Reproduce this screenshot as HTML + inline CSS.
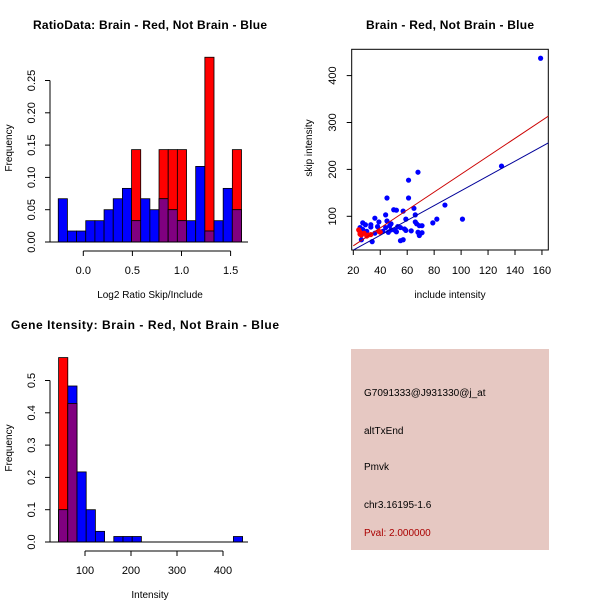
<!DOCTYPE html>
<html><head><meta charset="utf-8"><style>
html,body{margin:0;padding:0;background:#fff}
svg{display:block;font-family:"Liberation Sans",sans-serif}
</style></head><body>
<svg id="c" width="600" height="600" viewBox="0 0 600 600">
<rect width="600" height="600" fill="#fff"/>
<text x="150" y="29" font-size="12" font-weight="bold" text-anchor="middle" textLength="234">RatioData: Brain - Red, Not Brain - Blue</text>
<text x="450" y="29" font-size="12" font-weight="bold" text-anchor="middle" textLength="168">Brain - Red, Not Brain - Blue</text>
<text x="145" y="329" font-size="12" font-weight="bold" text-anchor="middle" textLength="268">Gene Itensity: Brain - Red, Not Brain - Blue</text>
<text x="150" y="298" font-size="10" text-anchor="middle">Log2 Ratio Skip/Include</text>
<text x="450" y="298" font-size="10" text-anchor="middle">include intensity</text>
<text x="150" y="598" font-size="10" text-anchor="middle">Intensity</text>
<text transform="translate(12,148) rotate(-90)" font-size="10" text-anchor="middle">Frequency</text>
<text transform="translate(312,148) rotate(-90)" font-size="10" text-anchor="middle">skip intensity</text>
<text transform="translate(12,448) rotate(-90)" font-size="10" text-anchor="middle">Frequency</text>
<g>
<rect x="351" y="349" width="198" height="201" fill="#e6c8c2"/>
<text x="364" y="396" font-size="10">G7091333@J931330@j_at</text>
<text x="364" y="434" font-size="10">altTxEnd</text>
<text x="364" y="470" font-size="10">Pmvk</text>
<text x="364" y="508" font-size="10">chr3.16195-1.6</text>
<text x="364" y="536" font-size="10" fill="#aa0000">Pval: 2.000000</text>
</g>
</svg>
<script>
const ratioBlue=[0.067,0.017,0.017,0.033,0.033,0.05,0.067,0.083,0.033,0.067,0.05,0.067,0.05,0.033,0.033,0.117,0.017,0.033,0.083,0.05];
const ratioRed=[0,0,0,0,0,0,0,0,0.143,0,0,0.143,0.143,0.143,0,0,0.286,0,0,0.143];
const ratioStart=-0.255, ratioWidth=0.0933;
const ratioXTicks=["0.0","0.5","1.0","1.5"];
const ratioYTicks=["0.00","0.05","0.10","0.15","0.20","0.25"];
const intBlue=[0.1,0.483,0.217,0.1,0.033,0,0.017,0.017,0.017,0,0,0,0,0,0,0,0,0,0,0.017];
const intRed=[0.571,0.429,0,0,0,0,0,0,0,0,0,0,0,0,0,0,0,0,0,0];
const intStart=42.6, intWidth=20;
const intXTicks=["100","200","300","400"];
const intYTicks=["0.0","0.1","0.2","0.3","0.4","0.5"];
const blueX=[159,130,68,61,61,45,88,65,57,50,52,44,66,101,82,59,79,36,39,27,29,33,33,25,27,30,38,45,47,44,46,48,51,53,55,58,59,63,66,67,69,71,71,68,69,55,57,34,26,36,42,48,52];
const blueY=[437,207,194,177,139,139,124,117,111,114,113,103,103,94,94,94,86,96,88,86,82,82,77,76,72,68,78,90,80,76,66,84,70,78,76,73,70,69,88,84,80,80,65,66,59,48,50,46,50,64,68,71,67];
const redX=[24,25,25,26,30,31,33,39,40,28];
const redY=[71,66,62,60,58,60,61,68,66,64];
const redFit=[[20,37],[165,314]];
const blueFit=[[20,28],[165,257]];
const scXTicks=["20","40","60","80","100","120","140","160"];
const scYTicks=["100","200","300","400"];

const svg=document.getElementById('c');const NS='http://www.w3.org/2000/svg';
function mk(t,a,p){const e=document.createElementNS(NS,t);for(const k in a)e.setAttribute(k,a[k]);(p||svg).appendChild(e);return e;}

function hist(g,blue,red,start,w,sx,sy,name){
  for(let i=0;i<blue.length;i++){
    const x0=sx(start+i*w),x1=sx(start+(i+1)*w);
    const b=blue[i],r=red[i],m=Math.min(b,r);
    if(r>0){const e=mk('rect',{x:x0,y:sy(r),width:x1-x0,height:sy(0)-sy(r),fill:'#ff0000',stroke:'#000','stroke-width':0.8},g);
      
      }
    if(b>0){const e=mk('rect',{x:x0,y:sy(b),width:x1-x0,height:sy(0)-sy(b),fill:'#0000ff',stroke:'#000','stroke-width':0.8},g);
      
      }
    if(m>0){const e=mk('rect',{x:x0,y:sy(m),width:x1-x0,height:sy(0)-sy(m),fill:'#800080',stroke:'#000','stroke-width':0.8},g);
      
      }
  }
}
function yAxis(g,x,ticks,sy,y0,y1){
  mk('line',{x1:x,x2:x,y1:sy(y0),y2:sy(y1),stroke:'#000'},g);
  ticks.forEach(t=>{const y=sy(+t);mk('line',{x1:x-5,x2:x,y1:y,y2:y,stroke:'#000'},g);
    const tx=mk('text',{transform:`translate(${x-15},${y}) rotate(-90)`,'font-size':11,'text-anchor':'middle'},g);tx.textContent=t;});
}
function xAxis(g,y,ticks,sx,x0,x1){
  mk('line',{x1:sx(x0),x2:sx(x1),y1:y,y2:y,stroke:'#000'},g);
  ticks.forEach(t=>{const x=sx(+t);mk('line',{x1:x,x2:x,y1:y,y2:y+5,stroke:'#000'},g);
    const tx=mk('text',{x:x,y:y+23,'font-size':11,'text-anchor':'middle'},g);tx.textContent=t;});
}
// Panel 1
{const g=mk('g',{});
 const sx=v=>83.3+v*98.2, sy=v=>242-v*646;
 hist(g,ratioBlue,ratioRed,ratioStart,ratioWidth,sx,sy,'ratio');
 mk('line',{x1:50,x2:248,y1:242,y2:242,stroke:'#000'},g);
 yAxis(g,50,ratioYTicks,sy,0,0.25);xAxis(g,251,ratioXTicks,sx,0,1.5);}
// Panel 3
{const g=mk('g',{});
 const sx=v=>85+(v-100)*0.46, sy=v=>542-v*323;
 hist(g,intBlue,intRed,intStart,intWidth,sx,sy,'intensity');
 mk('line',{x1:50,x2:248,y1:542,y2:542,stroke:'#000'},g);
 yAxis(g,50,intYTicks,sy,0,0.5);xAxis(g,551,intXTicks,sx,100,400);}
// Panel 2
{const g=mk('g',{});
 const sx=v=>353.3+(v-20)*1.3475, sy=v=>216.3-(v-100)*0.469;
 mk('rect',{x:351.7,y:49.3,width:196.6,height:200.7,fill:'none',stroke:'#000'},g);
 const cp=mk('clipPath',{id:'cl'},g);mk('rect',{x:351.7,y:49.3,width:196.6,height:200.7},cp);
 blueX.forEach((x,i)=>{const e=mk('circle',{cx:sx(x),cy:sy(blueY[i]),r:2.6,fill:'#0000ff'},g);
   
   });
 redX.forEach((x,i)=>{const e=mk('circle',{cx:sx(x),cy:sy(redY[i]),r:2.6,fill:'#ff0000'},g);
   
   });
 const l1=mk('line',{x1:sx(redFit[0][0]),y1:sy(redFit[0][1]),x2:sx(redFit[1][0]),y2:sy(redFit[1][1]),stroke:'#cc0000','clip-path':'url(#cl)'},g);
 
 
 const l2=mk('line',{x1:sx(blueFit[0][0]),y1:sy(blueFit[0][1]),x2:sx(blueFit[1][0]),y2:sy(blueFit[1][1]),stroke:'#000099','clip-path':'url(#cl)'},g);
 
 
 scYTicks.forEach(t=>{const y=sy(+t);mk('line',{x1:346.7,x2:351.7,y1:y,y2:y,stroke:'#000'},g);
   const tx=mk('text',{transform:`translate(336,${y}) rotate(-90)`,'font-size':11,'text-anchor':'middle'},g);tx.textContent=t;});
 scXTicks.forEach(t=>{const x=sx(+t);mk('line',{x1:x,x2:x,y1:250,y2:255,stroke:'#000'},g);
   const tx=mk('text',{x:x,y:274,'font-size':11,'text-anchor':'middle'},g);tx.textContent=t;});}
</script>
</body></html>
